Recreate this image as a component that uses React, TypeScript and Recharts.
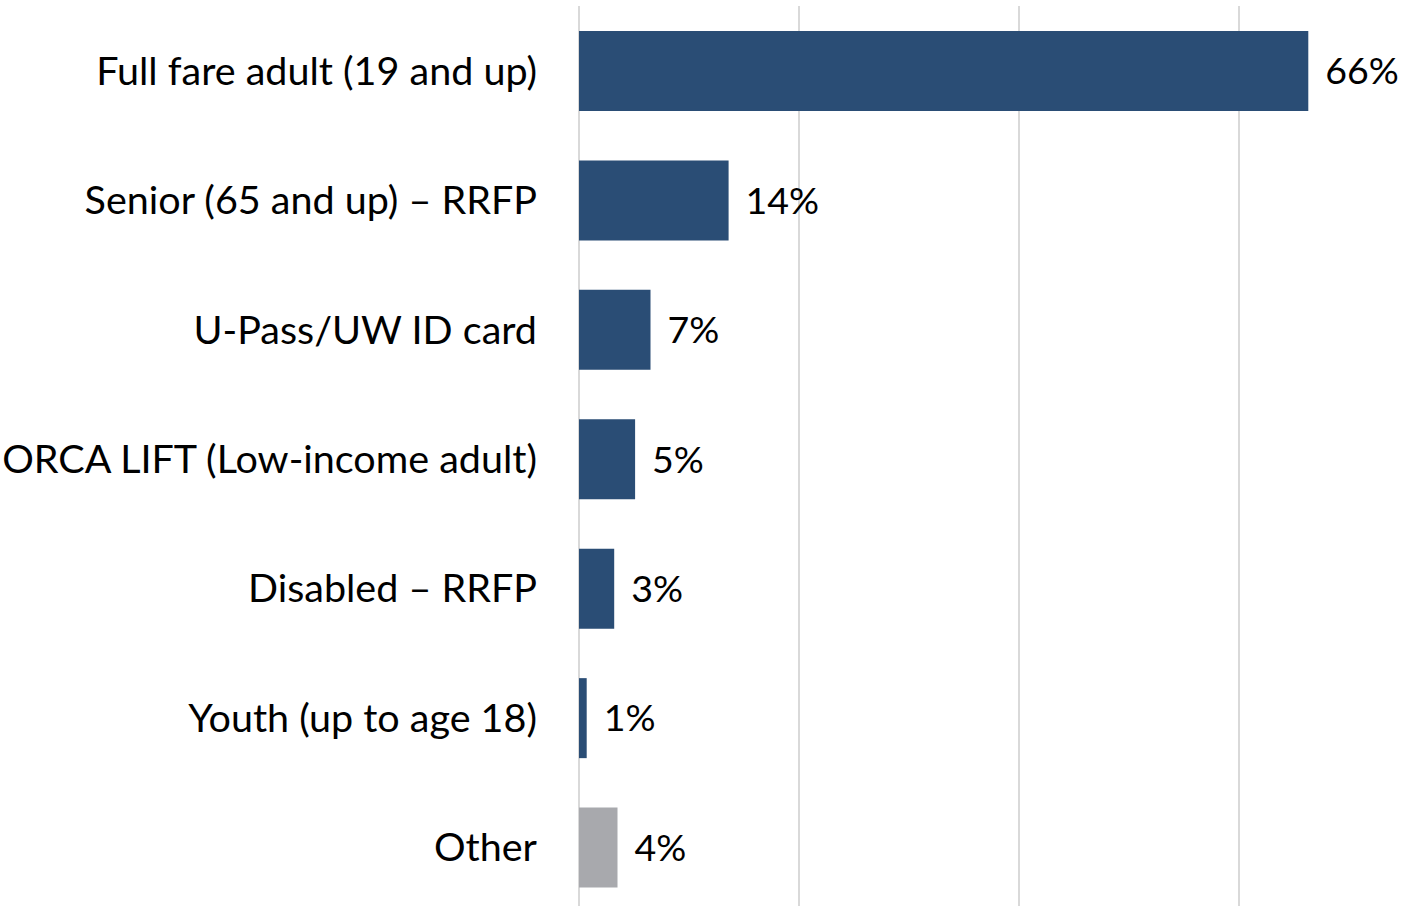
import { Bar, BarChart, CartesianGrid, Cell, LabelList, XAxis, YAxis } from "recharts";

const categories = [
  "Full fare adult (19 and up)",
  "Senior (65 and up) – RRFP",
  "U-Pass/UW ID card",
  "ORCA LIFT (Low-income adult)",
  "Disabled – RRFP",
  "Youth (up to age 18)",
  "Other",
];
const shares = [66.3, 13.6, 6.5, 5.1, 3.2, 0.7, 3.5];
const shareLabels = ["66%", "14%", "7%", "5%", "3%", "1%", "4%"];
const xTicks = [0, 20, 40, 60];
const xMax = 70;

const BLUE = "#2a4d75";
const GRAY = "#a8a9ad";

const chartData = categories.map((name, i) => ({
  name,
  share: shares[i],
  label: shareLabels[i],
}));

export default function App() {
  return (
    <div style={{ position: "absolute", left: 0, top: 0, fontFamily: "Lato, sans-serif" }}>
      <BarChart
        width={1402}
        height={912}
        data={chartData}
        layout="vertical"
        margin={{ top: 6, right: 53, left: 0, bottom: 0 }}
      >
        <CartesianGrid
          stroke="#d9d9d9"
          strokeWidth={2}
          horizontal={false}
          verticalCoordinatesGenerator={({ offset }: any) =>
            xTicks.map((t) => offset.left + (t / xMax) * offset.width)
          }
        />
        <XAxis type="number" domain={[0, xMax]} ticks={xTicks} hide />
        <YAxis
          type="category"
          dataKey="name"
          width={579}
          axisLine={false}
          tickLine={false}
          tickSize={0}
          tickMargin={42}
          tick={{ fontSize: 39.5, fill: "#000" }}
        />
        <Bar dataKey="share" barSize={80} isAnimationActive={false}>
          {chartData.map((row, i) => (
            <Cell key={row.name} fill={i === chartData.length - 1 ? GRAY : BLUE} />
          ))}
          <LabelList dataKey="label" position="right" offset={17} fill="#000" fontSize={37.5} />
        </Bar>
      </BarChart>
    </div>
  );
}
